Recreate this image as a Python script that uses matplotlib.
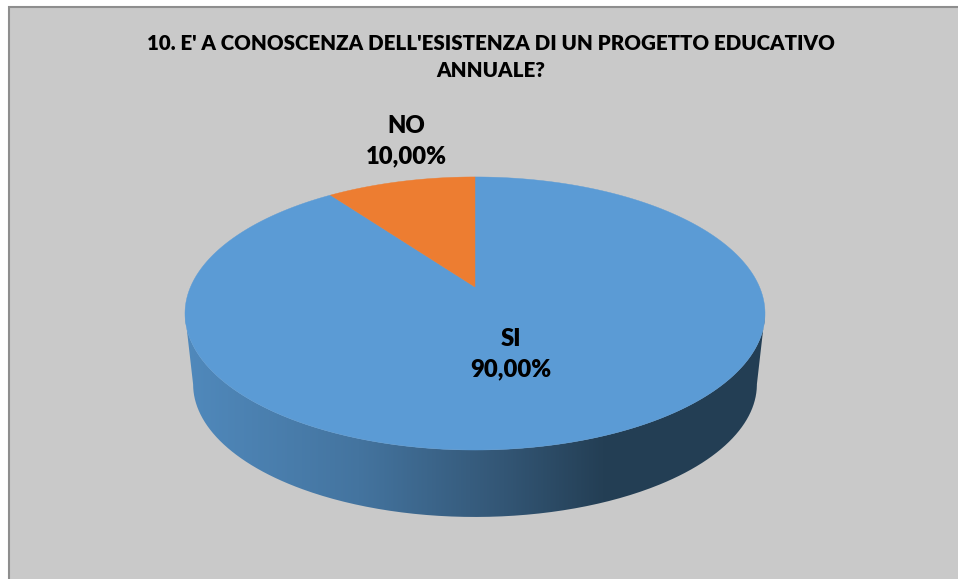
#!/usr/bin/python3

import matplotlib
matplotlib.use('Agg')
import matplotlib.pyplot as plt
from matplotlib.colors import LinearSegmentedColormap
from matplotlib.patches import PathPatch, Rectangle
from matplotlib.path import Path
import numpy as np

categories = ['SI', 'NO']
shares = [90.0, 10.0]
slice_colors = ['#5b9bd5', '#ed7d31']
title = "10. E' A CONOSCENZA DELL'ESISTENZA DI UN PROGETTO EDUCATIVO\nANNUALE?"

plt.rcParams['font.family'] = ['Lato', 'DejaVu Sans']

# perspective of the disc, in pixels
CX = 475.0
TOP_Y = 287.0
DEPTH_Y = 131.4
RX = 284.5
K = 0.194
LOWER_Y = 358.5
LOWER_SCALE = 0.972


def disc(theta, y0=TOP_Y, scale=1.0):
    # theta clockwise from the back of the disc
    u = np.sin(theta)
    v = np.cos(theta)
    s = scale / (1 + K * v)
    return CX + RX * u * s, y0 - DEPTH_Y * v * s


fig = plt.figure(figsize=(9.58, 5.79), dpi=100)
ax = fig.add_axes([0, 0, 1, 1])
ax.set_xlim(0, 958)
ax.set_ylim(579, 0)
ax.axis('off')

ax.add_patch(Rectangle((9.5, 6.5), 960, 590, fc='#c9c9c9', ec='#8e8e8e', lw=1.5))

# side wall runs between the widest points of the two rims
widest = np.arccos(-K)
th = np.linspace(widest, 2 * np.pi - widest, 300)
tx, ty = disc(th)
bx, by = disc(th, LOWER_Y, LOWER_SCALE)
vx = np.concatenate([tx, bx[::-1]])
vy = np.concatenate([ty, by[::-1]])
wall = PathPatch(Path(np.column_stack([vx, vy])), fc='none', ec='none')
ax.add_patch(wall)
side_cmap = LinearSegmentedColormap.from_list('side', [
    (0.0, '#5089bc'), (0.3, '#44749f'), (0.55, '#335675'),
    (0.72, '#243f55'), (1.0, '#233e54')])
img = ax.imshow(np.linspace(0, 1, 256).reshape(1, -1), cmap=side_cmap, vmin=0, vmax=1,
                extent=(185, 765, 579, 0), aspect='auto', zorder=2)
img.set_clip_path(wall)
ax.set_xlim(0, 958)
ax.set_ylim(579, 0)

# top face, slices run clockwise starting from the back, SI first
edges = np.cumsum([0.0] + shares) / sum(shares) * 2 * np.pi
for i, color in enumerate(slice_colors):
    th = np.linspace(edges[i], edges[i + 1], 300)
    x, y = disc(th)
    ax.fill(np.r_[CX, x], np.r_[TOP_Y, y], fc=color, ec=color, lw=0.3, zorder=3)

ax.text(491, 57, title, ha='center', va='center', fontsize=14.8, fontweight='heavy',
        color='black', linespacing=1.5, zorder=5)

label_pos = [(511, 354), (406.5, 141)]
for name, share, (lx, ly) in zip(categories, shares, label_pos):
    text = name + '\n' + ('%.2f%%' % share).replace('.', ',')
    ax.text(lx, ly, text, ha='center', va='center', fontsize=17.2, fontweight='heavy',
            color='black', linespacing=1.48, zorder=5)

fig.savefig('out.png', dpi=100)
